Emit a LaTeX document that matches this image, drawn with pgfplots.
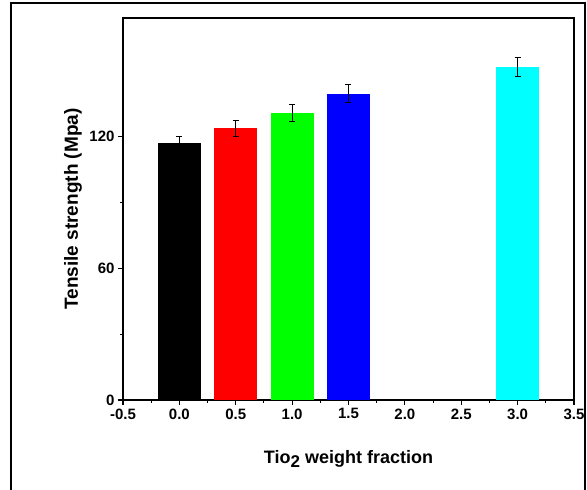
\documentclass[border=0pt]{standalone}
\usepackage{fontspec}
\setmainfont{Liberation Sans}
\usepackage{pgfplots}
\pgfplotsset{compat=1.18}
\definecolor{cyanb}{RGB}{0,255,255}
\definecolor{greenb}{RGB}{0,255,0}
\pgfplotsset{myerr/.style={error bars/.cd, y dir=both, y explicit, error bar style={black, line width=0.9pt}, error mark options={black, mark size=3pt, line width=0.9pt, rotate=90}}}
\begin{document}
\begin{tikzpicture}
\useasboundingbox (-123pt,-90pt) rectangle (464pt,400pt);
\draw[line width=2pt] (-112pt,-100pt) -- (-112pt,397pt) -- (462pt,397pt) -- (462pt,-100pt);
\begin{axis}[at={(0,0)}, anchor=south west, scale only axis,
 width=451pt, height=382pt,
 xmin=-0.5, xmax=3.5, ymin=0, ymax=174,
 xtick={-0.5,0,0.5,1,1.5,2,2.5,3,3.5}, minor x tick num=1,
 ytick={0,60,120}, minor y tick num=1,
 tick align=outside, xtick pos=bottom, ytick pos=left,
 major tick length=5pt, minor tick length=3pt,
 axis line style={line width=1.1pt}, every tick/.style={line width=1.1pt, black},
 /pgf/number format/assume math mode=true,
 tick label style={font=\fontsize{15}{15}\selectfont\bfseries},
 xticklabel style={/pgf/number format/fixed, /pgf/number format/fixed zerofill, /pgf/number format/precision=1},
 xlabel={Tio{\raisebox{-0.4ex}{\fontsize{17}{17}\selectfont 2}} weight fraction},
 ylabel={Tensile strength (Mpa)},
 xlabel style={font=\fontsize{18}{18}\selectfont\bfseries, at={(axis description cs:0.5,-0.155)}, anchor=center},
 ylabel style={font=\fontsize{19}{19}\selectfont\bfseries, at={(axis description cs:-0.111,0.5)}, anchor=center},
 clip=false,
]
\addplot[ybar, bar width=0.38, bar shift=0pt, fill=black, draw=none, myerr]
  coordinates {(0,117.1) +- (0,3.0)};
\addplot[ybar, bar width=0.38, bar shift=0pt, fill=red, draw=none, myerr]
  coordinates {(0.5,123.7) +- (0,3.7)};
\addplot[ybar, bar width=0.38, bar shift=0pt, fill=greenb, draw=none, myerr]
  coordinates {(1,130.7) +- (0,4.0)};
\addplot[ybar, bar width=0.38, bar shift=0pt, fill=blue, draw=none, myerr]
  coordinates {(1.5,139.6) +- (0,4.0)};
\addplot[ybar, bar width=0.38, bar shift=0pt, fill=cyanb, draw=none, myerr]
  coordinates {(3,151.7) +- (0,4.4)};
\end{axis}
\end{tikzpicture}
\end{document}
